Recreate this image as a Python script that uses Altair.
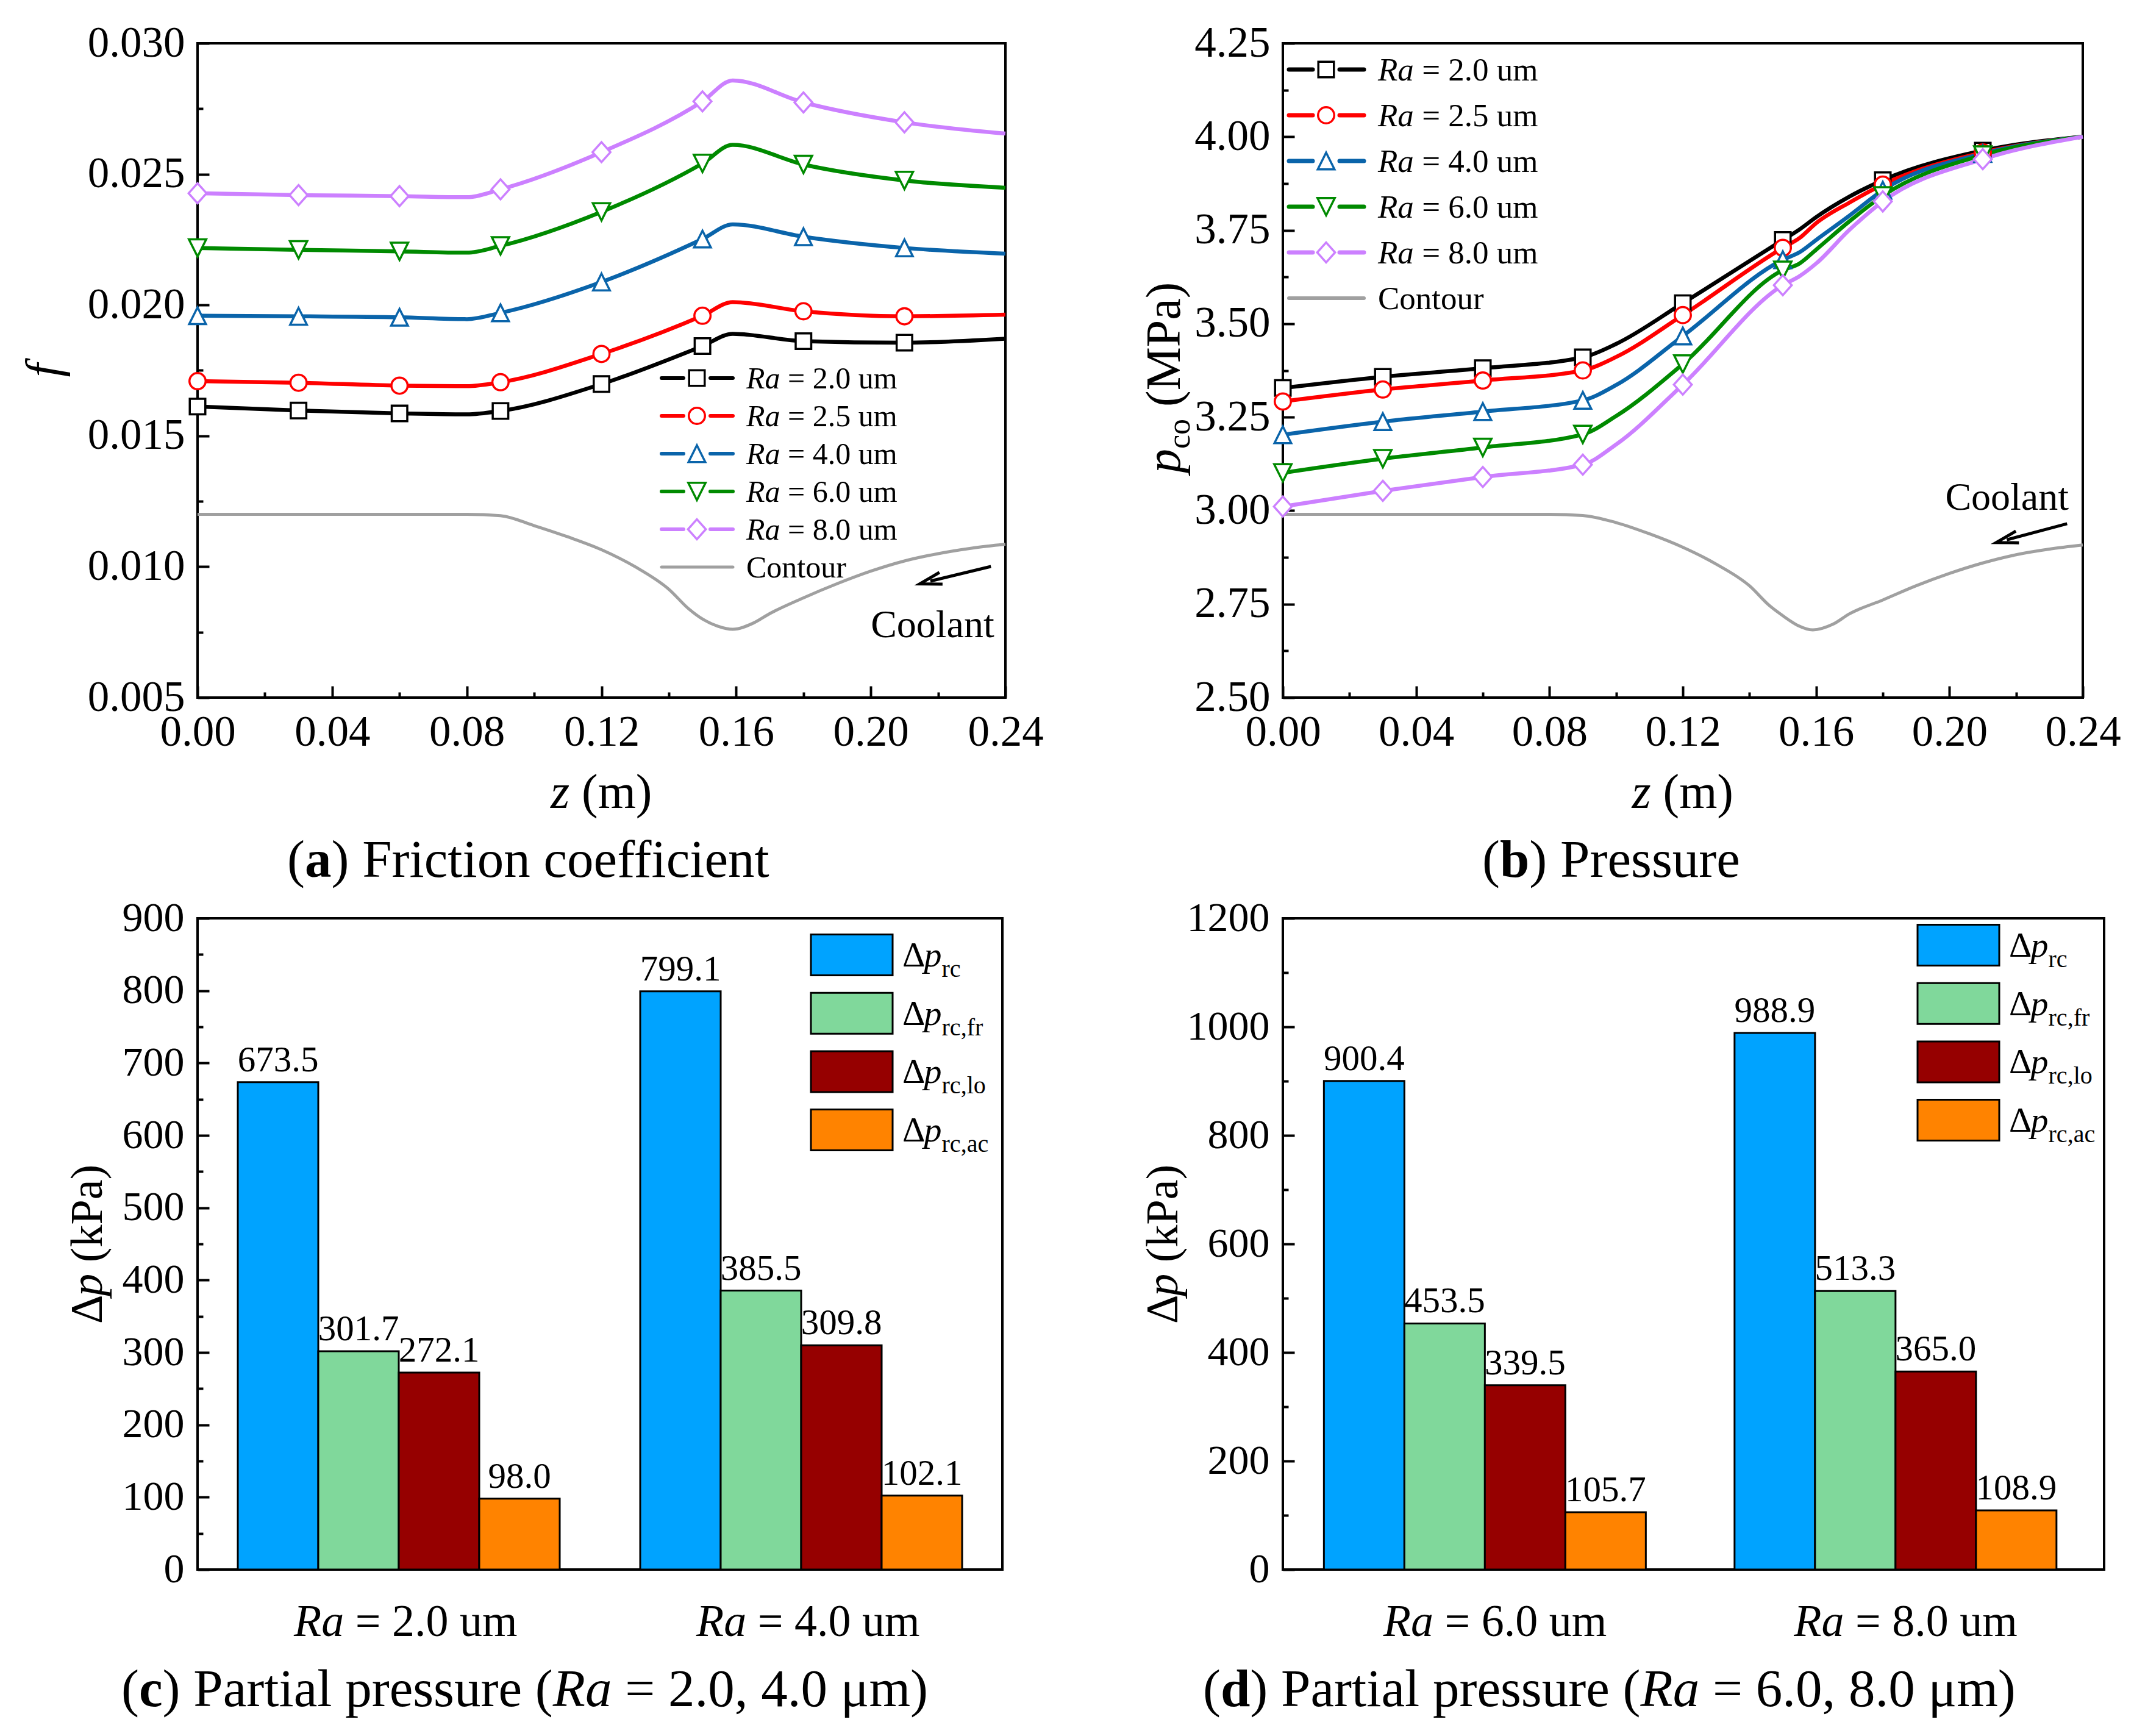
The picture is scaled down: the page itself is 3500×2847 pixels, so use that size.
import altair as alt
import pandas as pd

FONT = "Liberation Serif"

# ---------------- data ----------------
RA_SERIES = ["Ra = 2.0 um", "Ra = 2.5 um", "Ra = 4.0 um", "Ra = 6.0 um", "Ra = 8.0 um"]
RA_TEXT = ["= 2.0 um", "= 2.5 um", "= 4.0 um", "= 6.0 um", "= 8.0 um"]
MARKER_Z = [0.00, 0.03, 0.06, 0.09, 0.12, 0.15, 0.18, 0.21]

# (a) friction coefficient f
Z_F = [0.00, 0.03, 0.06, 0.08, 0.09, 0.12, 0.15, 0.159, 0.18, 0.21, 0.24]
F_RA20 = [0.01612, 0.01597, 0.01586, 0.01582, 0.01595, 0.01698, 0.01843, 0.01890, 0.01862, 0.01856, 0.01871]
F_RA25 = [0.01709, 0.01703, 0.01692, 0.01690, 0.01705, 0.01813, 0.01959, 0.02011, 0.01976, 0.01957, 0.01963]
F_RA40 = [0.01959, 0.01957, 0.01953, 0.01946, 0.01970, 0.02088, 0.02252, 0.02308, 0.02261, 0.02218, 0.02196]
F_RA60 = [0.02218, 0.02211, 0.02205, 0.02200, 0.02226, 0.02356, 0.02541, 0.02612, 0.02537, 0.02476, 0.02448]
F_RA80 = [0.02427, 0.02420, 0.02416, 0.02412, 0.02442, 0.02584, 0.02778, 0.02858, 0.02774, 0.02698, 0.02655]

# (b) pressure p_co (MPa)
Z_P = [0.00, 0.03, 0.06, 0.09, 0.10, 0.12, 0.15, 0.155, 0.16, 0.17, 0.18, 0.21, 0.24]
P_RA20 = [3.328, 3.358, 3.381, 3.410, 3.446, 3.555, 3.724, 3.752, 3.785, 3.840, 3.884, 3.963, 4.000]
P_RA25 = [3.292, 3.324, 3.348, 3.375, 3.411, 3.523, 3.703, 3.729, 3.769, 3.824, 3.872, 3.958, 4.000]
P_RA40 = [3.203, 3.238, 3.265, 3.295, 3.336, 3.467, 3.671, 3.691, 3.724, 3.789, 3.857, 3.955, 4.000]
P_RA60 = [3.101, 3.139, 3.169, 3.204, 3.253, 3.392, 3.643, 3.661, 3.698, 3.774, 3.842, 3.951, 4.000]
P_RA80 = [3.011, 3.053, 3.090, 3.123, 3.177, 3.337, 3.603, 3.627, 3.661, 3.751, 3.827, 3.940, 4.000]

# nozzle contour (drawn in each panel's units)
Z_CONTOUR = [0.00, 0.08, 0.09, 0.10, 0.11, 0.12, 0.13, 0.14, 0.146, 0.15, 0.1545, 0.159,
             0.165, 0.17, 0.18, 0.19, 0.20, 0.21, 0.22, 0.23, 0.24]
CONTOUR_F = [0.01200, 0.01200, 0.01195, 0.01157, 0.01114, 0.01065, 0.01000, 0.00914, 0.00838, 0.00800,
             0.00773, 0.00761, 0.00784, 0.00821, 0.00881, 0.00935, 0.00983, 0.01022, 0.01050, 0.01071, 0.01086]
CONTOUR_P = [2.990, 2.990, 2.987, 2.968, 2.938, 2.902, 2.857, 2.799, 2.746, 2.719,
             2.693, 2.681, 2.696, 2.724, 2.761, 2.799, 2.832, 2.860, 2.882, 2.897, 2.908]

# coolant arrows (tail z, tail value, head z, head value) and label anchor
ARROW_A = [0.2357, 0.01001, 0.2177, 0.00945]
COOLANT_A = [0.2367, 0.00731]
ARROW_B = [0.2353, 2.965, 0.2172, 2.922]
COOLANT_B = [0.2358, 3.002]

# (c), (d) partial pressure drops (kPa)
COMPONENTS = ["rc", "rc,fr", "rc,lo", "rc,ac"]
CATS_C = ["2.0", "4.0"]
DP_C = [[673.5, 799.1], [301.7, 385.5], [272.1, 309.8], [98.0, 102.1]]
CATS_D = ["6.0", "8.0"]
DP_D = [[900.4, 988.9], [453.5, 513.3], [339.5, 365.0], [105.7, 108.9]]

# ---------------- styles ----------------
LINE_COLORS = ["#000000", "#FF0000", "#0A64AA", "#008A00", "#CC80FF"]
SHAPES = ["square", "circle", "M0,-1L1,1L-1,1Z", "M0,1L1,-1L-1,-1Z", "M0,-1.12L1,0L0,1.12L-1,0Z"]
MSIZES = [650, 860, 1250, 1250, 1400]
CONTOUR_COLOR = "#A0A0A0"
BAR_COLORS = ["#00A3FF", "#80D89B", "#960000", "#FF8300"]
ARROW_HEAD = "M1,-0.55L-1,0L1,0.55"


def text_pieces(items, x, y, angle=0, align="left", baseline="alphabetic"):
    out = []
    for (t, size, style, weight, dx, dy) in items:
        out.append(
            alt.Chart(pd.DataFrame({"t": [t]})).mark_text(
                font=FONT, fontSize=size, fontStyle=style, fontWeight=weight,
                align=align, baseline=baseline, angle=angle, dx=dx, dy=dy, color="black"
            ).encode(x=alt.value(x), y=alt.value(y), text="t:N")
        )
    return out


def tick_axis(orient, offset, values, size):
    return alt.Axis(orient=orient, offset=offset, values=values, labels=False, ticks=True,
                    tickSize=size, tickWidth=4, tickColor="black", domain=False, grid=False,
                    title=None)


def line_panel(W, H, z_line, series_vals, c_vals, ydom, yfmt, ymajor, yminor,
               leg, arrow, cool, ytitle_layers, caption_items, caption_x):
    xmajor = [0, 0.04, 0.08, 0.12, 0.16, 0.20, 0.24]
    xminor = [0.02, 0.06, 0.10, 0.14, 0.18, 0.22]
    xs = alt.Scale(domain=[0, 0.24], nice=False, zero=False)
    ys = alt.Scale(domain=ydom, nice=False, zero=False)
    st = alt.Scale(domain=RA_SERIES, range=LINE_COLORS)
    sh = alt.Scale(domain=RA_SERIES, range=SHAPES)
    sz = alt.Scale(domain=RA_SERIES, range=MSIZES)

    rows = []
    for s, vals in zip(RA_SERIES, series_vals):
        for z, v in zip(z_line, vals):
            rows.append({"z": z, "v": v, "s": s,
                         "m": any(abs(z - mz) < 1e-9 for mz in MARKER_Z)})
    df = pd.DataFrame(rows)
    dfm = df[df["m"]].drop(columns="m")
    df = df.drop(columns="m")
    dfc = pd.DataFrame({"z": Z_CONTOUR, "v": c_vals})

    main_x = alt.Axis(orient="bottom", values=xmajor, format=".2f", labelFontSize=71,
                      labelBaseline="alphabetic", labelPadding=78, ticks=False, tickSize=0,
                      domain=False, grid=False, title=None, labelFlush=False, labelOverlap=False)
    main_y = alt.Axis(orient="left", values=ymajor, format=yfmt, labelFontSize=71,
                      labelPadding=21, ticks=False, tickSize=0, domain=False, grid=False,
                      title=None, labelFlush=False, labelOverlap=False, labelBaseline="middle")

    contour = alt.Chart(dfc).mark_line(color=CONTOUR_COLOR, strokeWidth=5, interpolate="monotone").encode(
        x=alt.X("z:Q", scale=xs, axis=tick_axis("top", -H, xmajor, 19)),
        y=alt.Y("v:Q", scale=ys, axis=tick_axis("right", -W, ymajor, 19)))
    lines = alt.Chart(df).mark_line(strokeWidth=6.5, interpolate="monotone").encode(
        x=alt.X("z:Q", scale=xs, axis=main_x),
        y=alt.Y("v:Q", scale=ys, axis=main_y),
        stroke=alt.Stroke("s:N", scale=st, legend=None))
    points = alt.Chart(dfm).mark_point(filled=True, fill="white", strokeWidth=3.5, opacity=1).encode(
        x=alt.X("z:Q", scale=xs, axis=tick_axis("top", -H, xminor, 9)),
        y=alt.Y("v:Q", scale=ys, axis=tick_axis("right", -W, yminor, 9)),
        stroke=alt.Stroke("s:N", scale=st, legend=None),
        shape=alt.Shape("s:N", scale=sh, legend=None),
        size=alt.Size("s:N", scale=sz, legend=None))

    # legend (placed in data units of the panel)
    def px2z(px):
        return px / W * 0.24

    def py2v(py):
        return ydom[1] - py / H * (ydom[1] - ydom[0])

    lrows = []
    for k, (s, t) in enumerate(zip(RA_SERIES, RA_TEXT)):
        lrows.append({"s": s, "t": t, "y": py2v(leg["row0"] + k * leg["step"]),
                      "l1": px2z(leg["l1"]), "l2": px2z(leg["l2"]),
                      "r1": px2z(leg["r1"]), "r2": px2z(leg["r2"]),
                      "m": px2z(leg["m"]), "tx": px2z(leg["t"])})
    dl = pd.DataFrame(lrows)
    dcl = pd.DataFrame({"y": [py2v(leg["row0"] + 5 * leg["step"])],
                        "l1": [px2z(leg["l1"])], "r2": [px2z(leg["r2"])], "tx": [px2z(leg["t"])]})
    F = leg["font"]
    noax = dict(axis=None)
    leg_l = alt.Chart(dl).mark_rule(strokeWidth=leg["lw"], strokeCap="round").encode(
        x=alt.X("l1:Q", scale=xs, **noax), x2="l2:Q", y=alt.Y("y:Q", scale=ys, **noax),
        stroke=alt.Stroke("s:N", scale=st, legend=None))
    leg_r = alt.Chart(dl).mark_rule(strokeWidth=leg["lw"], strokeCap="round").encode(
        x=alt.X("r1:Q", scale=xs, **noax), x2="r2:Q", y=alt.Y("y:Q", scale=ys, **noax),
        stroke=alt.Stroke("s:N", scale=st, legend=None))
    leg_m = alt.Chart(dl).mark_point(filled=True, fill="white", strokeWidth=3.5, opacity=1).encode(
        x=alt.X("m:Q", scale=xs, **noax), y=alt.Y("y:Q", scale=ys, **noax),
        stroke=alt.Stroke("s:N", scale=st, legend=None),
        shape=alt.Shape("s:N", scale=sh, legend=None),
        size=alt.Size("s:N", scale=sz, legend=None))
    leg_ra = alt.Chart(dl).mark_text(text="Ra", font=FONT, fontSize=F, fontStyle="italic", align="left",
                                     baseline="alphabetic", dy=0.34 * F, color="black").encode(
        x=alt.X("tx:Q", scale=xs, **noax), y=alt.Y("y:Q", scale=ys, **noax))
    leg_t = alt.Chart(dl).mark_text(font=FONT, fontSize=F, align="left", baseline="alphabetic",
                                    dx=1.361 * F, dy=0.34 * F, color="black").encode(
        x=alt.X("tx:Q", scale=xs, **noax), y=alt.Y("y:Q", scale=ys, **noax), text="t:N")
    leg_cl = alt.Chart(dcl).mark_rule(strokeWidth=leg["lw"] - 1, strokeCap="round", color=CONTOUR_COLOR).encode(
        x=alt.X("l1:Q", scale=xs, **noax), x2="r2:Q", y=alt.Y("y:Q", scale=ys, **noax))
    leg_ct = alt.Chart(dcl).mark_text(text="Contour", font=FONT, fontSize=F, align="left",
                                      baseline="alphabetic", dy=0.34 * F, color="black").encode(
        x=alt.X("tx:Q", scale=xs, **noax), y=alt.Y("y:Q", scale=ys, **noax))

    da = pd.DataFrame({"x": [arrow[0]], "y": [arrow[1]], "x2": [arrow[2]], "y2": [arrow[3]]})
    shaft = alt.Chart(da).mark_rule(strokeWidth=5, color="black").encode(
        x=alt.X("x:Q", scale=xs, **noax), y=alt.Y("y:Q", scale=ys, **noax), x2="x2:Q", y2="y2:Q")
    head = alt.Chart(da).mark_point(shape=ARROW_HEAD, size=1300, angle=345, filled=False,
                                    stroke="black", strokeWidth=5, opacity=1).encode(
        x=alt.X("x2:Q", scale=xs, **noax), y=alt.Y("y2:Q", scale=ys, **noax))
    dco = pd.DataFrame({"x": [cool[0]], "y": [cool[1]]})
    cool_t = alt.Chart(dco).mark_text(text="Coolant", font=FONT, fontSize=64, align="right",
                                      baseline="alphabetic", color="black").encode(
        x=alt.X("x:Q", scale=xs, **noax), y=alt.Y("y:Q", scale=ys, **noax))

    xtitle = text_pieces([("z", 80, "italic", "normal", 0, 0), ("(m)", 80, "normal", "normal", 51, 0)],
                         W / 2 - 83.5, H + 181)
    cap = text_pieces(caption_items, caption_x, H + 294)

    layers = [contour, lines, points, leg_l, leg_r, leg_cl, leg_m, leg_ra, leg_t, leg_ct,
              shaft, head, cool_t] + xtitle + ytitle_layers + cap
    return alt.layer(*layers).properties(width=W, height=H).resolve_axis(x="independent", y="independent")


def bar_panel(W, H, cats, dp, ymax, ymajor, yminor, leg_row0, leg_x1, leg_x2, leg_tx,
              ytitle_x, caption_items, caption_x):
    rows = []
    for comp, vals in zip(COMPONENTS, dp):
        for c, v in zip(cats, vals):
            rows.append({"cat": c, "comp": comp, "val": v})
    df = pd.DataFrame(rows)
    xs = alt.Scale(domain=cats, paddingInner=0.2, paddingOuter=0.1)
    xo = alt.Scale(domain=COMPONENTS, paddingInner=0, paddingOuter=0)
    ys = alt.Scale(domain=[0, ymax], nice=False, zero=True)
    fs = alt.Scale(domain=COMPONENTS, range=BAR_COLORS)

    main_y = alt.Axis(orient="left", values=ymajor, format="d", labelFontSize=68, labelPadding=22,
                      ticks=False, tickSize=0, domain=False, grid=False, title=None,
                      labelFlush=False, labelOverlap=False)
    bars = alt.Chart(df).mark_bar(stroke="black", strokeWidth=3).encode(
        x=alt.X("cat:N", scale=xs, axis=None),
        xOffset=alt.XOffset("comp:N", scale=xo),
        y=alt.Y("val:Q", scale=ys, axis=main_y),
        fill=alt.Fill("comp:N", scale=fs, legend=None))
    vlab = alt.Chart(df).mark_text(font=FONT, fontSize=59, baseline="alphabetic", dy=-18, color="black").encode(
        x=alt.X("cat:N", scale=xs, axis=None),
        xOffset=alt.XOffset("comp:N", scale=xo),
        y=alt.Y("val:Q", scale=ys, axis=tick_axis("right", -W, ymajor, 19)),
        text=alt.Text("val:Q", format=".1f"))

    def py2v(py):
        return (1 - py / H) * ymax

    step = 95.7
    lrows = []
    for k, comp in enumerate(COMPONENTS):
        r = leg_row0 + k * step
        lrows.append({"comp": comp, "y1": py2v(r - 33.5), "y2": py2v(r + 33.5), "ym": py2v(r)})
    dl = pd.DataFrame(lrows)
    leg_rect = alt.Chart(dl).mark_rect(stroke="black", strokeWidth=3).encode(
        x=alt.value(leg_x1), x2=alt.value(leg_x2),
        y=alt.Y("y1:Q", scale=ys, axis=tick_axis("right", -W, yminor, 9)), y2="y2:Q",
        fill=alt.Fill("comp:N", scale=fs, legend=None))
    FL = 58
    leg_d = alt.Chart(dl).mark_text(text="\u0394", font=FONT, fontSize=FL, align="left",
                                    baseline="alphabetic", dy=19, color="black").encode(
        x=alt.value(leg_tx), y=alt.Y("ym:Q", scale=ys, axis=None))
    leg_p = alt.Chart(dl).mark_text(text="p", font=FONT, fontSize=FL, fontStyle="italic", align="left",
                                    baseline="alphabetic", dx=0.613 * FL, dy=19, color="black").encode(
        x=alt.value(leg_tx), y=alt.Y("ym:Q", scale=ys, axis=None))
    leg_s = alt.Chart(dl).mark_text(font=FONT, fontSize=40, align="left", baseline="alphabetic",
                                    dx=1.113 * FL, dy=36, color="black").encode(
        x=alt.value(leg_tx), y=alt.Y("ym:Q", scale=ys, axis=None), text="comp:N")

    dcat = pd.DataFrame({"cat": cats, "t": ["= " + c + " um" for c in cats]})
    FC = 74
    cat_ra = alt.Chart(dcat).mark_text(text="Ra", font=FONT, fontSize=FC, fontStyle="italic", align="left",
                                       baseline="alphabetic", dx=-172, color="black").encode(
        x=alt.X("cat:N", scale=xs, axis=None), y=alt.value(H + 109))
    cat_t = alt.Chart(dcat).mark_text(font=FONT, fontSize=FC, align="left", baseline="alphabetic",
                                      dx=-172 + 1.361 * FC, color="black").encode(
        x=alt.X("cat:N", scale=xs, axis=None), y=alt.value(H + 109), text="t:N")

    FT = 74
    ytitle = text_pieces([("\u0394", FT, "normal", "normal", 0, 0),
                          ("p", FT, "italic", "normal", 0.613 * FT, 0),
                          ("(kPa)", FT, "normal", "normal", (0.613 + 0.5 + 0.25) * FT, 0)],
                         ytitle_x, 665, angle=270)
    cap = text_pieces(caption_items, caption_x, H + 224)

    layers = [bars, vlab, leg_rect, leg_d, leg_p, leg_s, cat_ra, cat_t] + ytitle + cap
    return alt.layer(*layers).properties(width=W, height=H).resolve_axis(x="independent", y="independent")


# ---------------- panels ----------------
FCAP = 87
W_A, W_B, W_C, W_D = 1325, 1312, 1320, 1347
H_TOP, H_BOT = 1073, 1068
COL_GAP, ROW_GAP = 455, 362

ytitle_a = text_pieces([("f", 80, "italic", "normal", 0, 0)], -226, H_TOP / 2, angle=270, align="center")
cap_a = [("(", FCAP, "normal", "normal", 0, 0), ("a", FCAP, "normal", "bold", 0.333 * FCAP, 0),
         (") Friction coefficient", FCAP, "normal", "normal", 0.833 * FCAP, 0)]
panel_a = line_panel(
    W_A, H_TOP, Z_F, [F_RA20, F_RA25, F_RA40, F_RA60, F_RA80], CONTOUR_F,
    [0.005, 0.030], ".3f",
    [0.005, 0.010, 0.015, 0.020, 0.025, 0.030],
    [0.0075, 0.0125, 0.0175, 0.0225, 0.0275],
    dict(row0=549, step=62, l1=761, l2=797, m=819, r1=841, r2=878, t=900, font=50, lw=6),
    ARROW_A, COOLANT_A, ytitle_a, cap_a, 147)

ytitle_b = text_pieces([("p", 80, "italic", "normal", 0, 0),
                        ("co", 52, "normal", "normal", 40, 16),
                        ("(MPa)", 80, "normal", "normal", 40 + 0.944 * 52 + 20, 0)],
                       -169, 705, angle=270)
cap_b = [("(", FCAP, "normal", "normal", 0, 0), ("b", FCAP, "normal", "bold", 0.333 * FCAP, 0),
         (") Pressure", FCAP, "normal", "normal", 0.889 * FCAP, 0)]
panel_b = line_panel(
    W_B, H_TOP, Z_P, [P_RA20, P_RA25, P_RA40, P_RA60, P_RA80], CONTOUR_P,
    [2.5, 4.25], ".2f",
    [2.50, 2.75, 3.00, 3.25, 3.50, 3.75, 4.00, 4.25],
    [2.625, 2.875, 3.125, 3.375, 3.625, 3.875, 4.125],
    dict(row0=43, step=75, l1=10, l2=49, m=71, r1=93, r2=133, t=156, font=53, lw=7),
    ARROW_B, COOLANT_B, ytitle_b, cap_b, 327)


def partial_caption(letter, wbold):
    return [("(", FCAP, "normal", "normal", 0, 0),
            (letter, FCAP, "normal", "bold", 0.333 * FCAP, 0),
            (") Partial pressure (", FCAP, "normal", "normal", (0.333 + wbold) * FCAP, 0),
            ("Ra", FCAP, "italic", "normal", (0.333 + wbold + 7.359) * FCAP, 0),
            ("= " + ("2.0, 4.0" if letter == "c" else "6.0, 8.0") + " \u03bcm)", FCAP, "normal", "normal",
             (0.333 + wbold + 7.359 + 1.361) * FCAP, 0)]


panel_c = bar_panel(W_C, H_BOT, CATS_C, DP_C, 900, list(range(0, 901, 100)), list(range(50, 851, 100)),
                    60, 1006, 1140, 1156, -157, partial_caption("c", 0.444), -125)
panel_d = bar_panel(W_D, H_BOT, CATS_D, DP_D, 1200, list(range(0, 1201, 200)), list(range(100, 1101, 200)),
                    44, 1041, 1175, 1191, -173, partial_caption("d", 0.556), -131)

chart = alt.concat(panel_a, panel_b, panel_c, panel_d, columns=2,
                   spacing={"row": ROW_GAP, "column": COL_GAP}, bounds="flush").properties(
    padding={"left": 24, "top": 25, "right": 10, "bottom": 10},
    background="white",
).configure_view(stroke="black", strokeWidth=4).configure_axis(labelFont=FONT, labelColor="black")

chart.save("out.html", embed_options={"renderer": "svg", "actions": False})
